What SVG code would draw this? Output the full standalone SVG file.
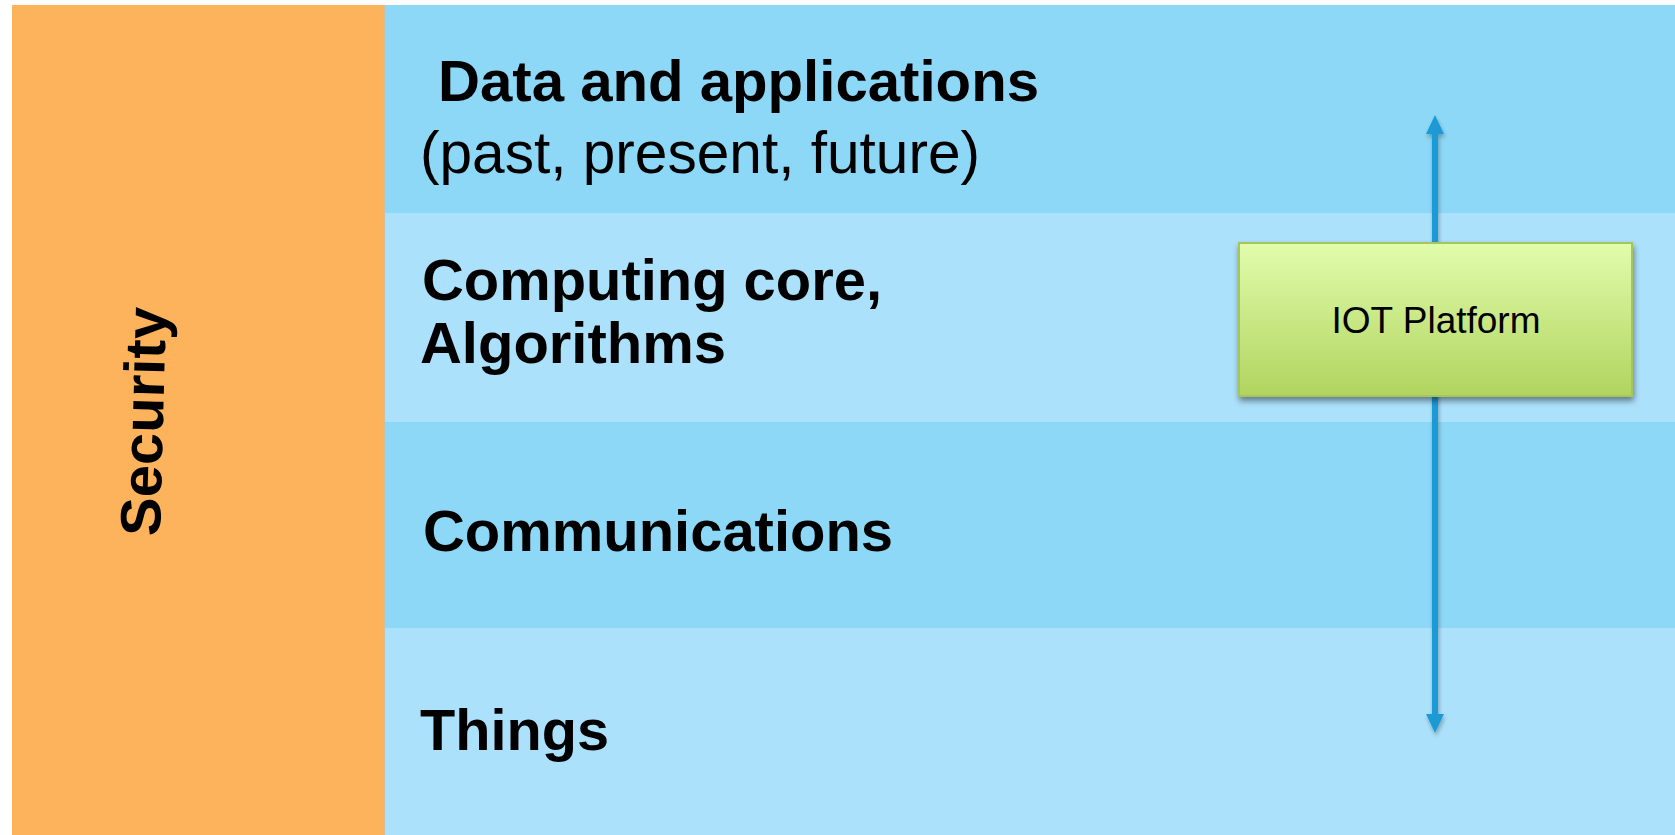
<svg xmlns="http://www.w3.org/2000/svg" width="1675" height="835" viewBox="0 0 1675 835">
  <style>
    .band-dark { fill: #8DD8F6; }
    .band-light { fill: #ACE1FB; }
    .label-bold { font-family: "Liberation Sans", Arial, sans-serif; font-weight: bold; font-size: 57px; fill: #000000; }
    .label-reg { font-family: "Liberation Sans", Arial, sans-serif; font-size: 60px; fill: #000000; }
    .conn { stroke: #1E9AD6; stroke-width: 6; fill: none; }
  </style>
  <defs>
    <linearGradient id="iotGrad" x1="0" y1="0" x2="0" y2="1">
      <stop offset="0" stop-color="#E2FCAC"/>
      <stop offset="1" stop-color="#B0D45F"/>
    </linearGradient>
    <filter id="shadow" x="-10%" y="-10%" width="125%" height="135%">
      <feGaussianBlur in="SourceAlpha" stdDeviation="3"/>
      <feOffset dx="1" dy="4" result="b"/>
      <feComponentTransfer><feFuncA type="linear" slope="0.45"/></feComponentTransfer>
      <feMerge><feMergeNode/><feMergeNode in="SourceGraphic"/></feMerge>
    </filter>
    <filter id="lineShadow" filterUnits="userSpaceOnUse" x="1400" y="90" width="80" height="680">
      <feGaussianBlur in="SourceAlpha" stdDeviation="2"/>
      <feOffset dx="1" dy="3" result="b"/>
      <feComponentTransfer><feFuncA type="linear" slope="0.3"/></feComponentTransfer>
      <feMerge><feMergeNode/><feMergeNode in="SourceGraphic"/></feMerge>
    </filter>
    <marker id="arrow" viewBox="0 0 19 18" markerUnits="userSpaceOnUse" markerWidth="19" markerHeight="18" refX="8" refY="9" orient="auto-start-reverse">
      <path d="M0,0 L19,9 L0,18 z" fill="#1E9AD6"/>
    </marker>
  </defs>

  <rect x="0" y="0" width="1675" height="835" fill="#FFFFFF"/>

  <g id="band-data">
    <rect class="band-dark" x="385" y="5" width="1290" height="208"/>
    <text class="label-bold" x="438" y="101" font-size="56" textLength="601" lengthAdjust="spacingAndGlyphs">Data and applications</text>
    <text class="label-reg" x="420" y="173" font-size="62" textLength="560" lengthAdjust="spacingAndGlyphs">(past, present, future)</text>
  </g>

  <g id="band-computing">
    <rect class="band-light" x="385" y="213" width="1290" height="209"/>
    <text class="label-bold" x="422" y="300" textLength="460" lengthAdjust="spacingAndGlyphs">Computing core,</text>
    <text class="label-bold" x="420" y="363" textLength="306" lengthAdjust="spacingAndGlyphs">Algorithms</text>
  </g>

  <g id="band-communications">
    <rect class="band-dark" x="385" y="422" width="1290" height="206"/>
    <text class="label-bold" x="423" y="551" textLength="470" lengthAdjust="spacingAndGlyphs">Communications</text>
  </g>

  <g id="band-things">
    <rect class="band-light" x="385" y="628" width="1290" height="207"/>
    <text class="label-bold" x="420" y="750" textLength="189" lengthAdjust="spacingAndGlyphs">Things</text>
  </g>

  <g id="security">
    <rect x="12" y="5" width="372" height="830" fill="#FCB35B"/>
    <line x1="384.5" y1="5" x2="384.5" y2="835" stroke="#CDBFA0" stroke-width="1"/>
    <text class="label-bold" font-size="44" text-anchor="middle" transform="translate(163,422) rotate(-88.5)" textLength="229" lengthAdjust="spacingAndGlyphs">Security</text>
  </g>

  <g id="connectors">
    <line class="conn" x1="1435" y1="126" x2="1435" y2="722" marker-start="url(#arrow)" marker-end="url(#arrow)" filter="url(#lineShadow)"/>
  </g>

  <g id="iot-platform">
    <rect x="1239" y="243" width="393" height="153" fill="url(#iotGrad)" stroke="#A6C55C" stroke-width="2" filter="url(#shadow)"/>
    <text x="1436" y="333" text-anchor="middle" font-family="Liberation Sans, Arial, sans-serif" font-size="37" fill="#000000">IOT Platform</text>
  </g>
</svg>
